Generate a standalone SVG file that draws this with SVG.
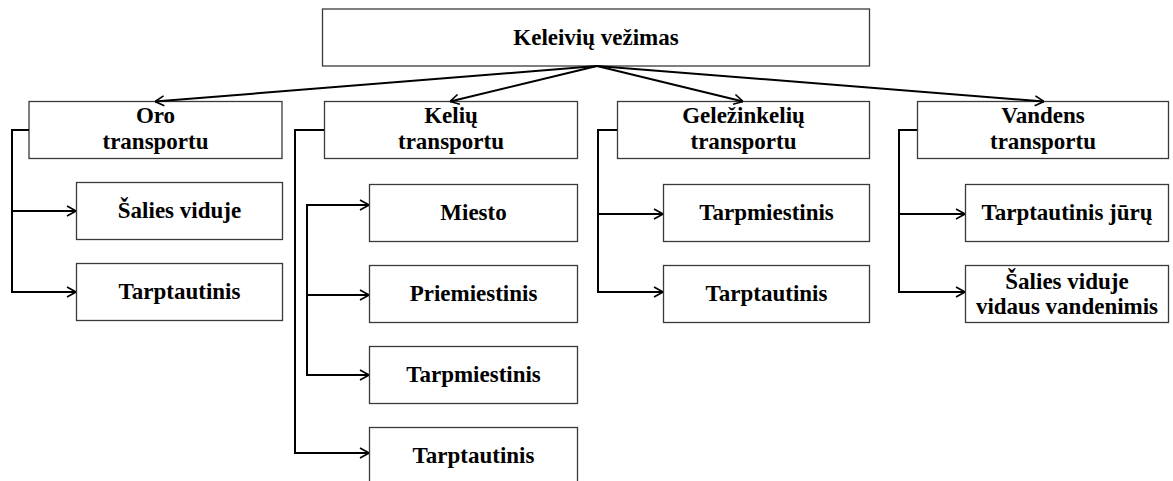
<svg xmlns="http://www.w3.org/2000/svg" width="1173" height="481" viewBox="0 0 1173 481">
  <style>
    .box { fill: #ffffff; stroke: #3a3a3a; stroke-width: 1.3; }
    .lbl { font-family: "Liberation Serif", "Times New Roman", serif; font-weight: bold; font-size: 23px; fill: #000; text-anchor: middle; }
    .wire { fill: none; stroke: #000; stroke-width: 2; }
  </style>
  <defs>
    <marker id="arr" viewBox="0 0 10 12" refX="10" refY="6" markerWidth="10" markerHeight="12" markerUnits="userSpaceOnUse" orient="auto">
      <path d="M1,1 L10,6 L1,11" fill="none" stroke="#000" stroke-width="1.6"/>
    </marker>
  </defs>
  <rect width="1173" height="481" fill="#ffffff"/>

  <!-- root -->
  <g id="root">
    <rect class="box" x="322.5" y="9" width="547" height="57"/>
    <text class="lbl" x="596" y="45">Keleivių vežimas</text>
  </g>

  <!-- first level -->
  <g id="oro">
    <rect class="box" x="29" y="101.5" width="253" height="57"/>
    <text class="lbl" x="155.5" y="123">Oro</text>
    <text class="lbl" x="155.5" y="149">transportu</text>
  </g>
  <g id="keliu">
    <rect class="box" x="324.5" y="101.5" width="253" height="57"/>
    <text class="lbl" x="451" y="123">Kelių</text>
    <text class="lbl" x="451" y="149">transportu</text>
  </g>
  <g id="gelezinkeliu">
    <rect class="box" x="617.5" y="101.5" width="252" height="57"/>
    <text class="lbl" x="743.5" y="123">Geležinkelių</text>
    <text class="lbl" x="743.5" y="149">transportu</text>
  </g>
  <g id="vandens">
    <rect class="box" x="917.5" y="101.5" width="251" height="57"/>
    <text class="lbl" x="1043" y="123">Vandens</text>
    <text class="lbl" x="1043" y="149">transportu</text>
  </g>

  <!-- air -->
  <g id="oro-salies">
    <rect class="box" x="76.5" y="182.5" width="206" height="57"/>
    <text class="lbl" x="179.5" y="218">Šalies viduje</text>
  </g>
  <g id="oro-tarptautinis">
    <rect class="box" x="76.5" y="263.5" width="206" height="57"/>
    <text class="lbl" x="179.5" y="299">Tarptautinis</text>
  </g>

  <!-- road -->
  <g id="keliu-miesto">
    <rect class="box" x="369.5" y="184.5" width="208" height="57"/>
    <text class="lbl" x="473.5" y="220">Miesto</text>
  </g>
  <g id="keliu-priemiestinis">
    <rect class="box" x="369.5" y="265.5" width="208" height="57"/>
    <text class="lbl" x="473.5" y="301">Priemiestinis</text>
  </g>
  <g id="keliu-tarpmiestinis">
    <rect class="box" x="369.5" y="346.5" width="208" height="57"/>
    <text class="lbl" x="473.5" y="382">Tarpmiestinis</text>
  </g>
  <g id="keliu-tarptautinis">
    <rect class="box" x="369.5" y="427.5" width="208" height="60"/>
    <text class="lbl" x="473.5" y="463">Tarptautinis</text>
  </g>

  <!-- rail -->
  <g id="gelezinkeliu-tarpmiestinis">
    <rect class="box" x="663.5" y="184.5" width="206" height="57"/>
    <text class="lbl" x="766.5" y="220">Tarpmiestinis</text>
  </g>
  <g id="gelezinkeliu-tarptautinis">
    <rect class="box" x="663.5" y="265.5" width="206" height="57"/>
    <text class="lbl" x="766.5" y="301">Tarptautinis</text>
  </g>

  <!-- water -->
  <g id="vandens-juru">
    <rect class="box" x="965.5" y="184.5" width="203" height="57"/>
    <text class="lbl" x="1067" y="220">Tarptautinis jūrų</text>
  </g>
  <g id="vandens-vidaus">
    <rect class="box" x="965.5" y="265.5" width="203" height="57"/>
    <text class="lbl" x="1067" y="289">Šalies viduje</text>
    <text class="lbl" x="1067" y="314">vidaus vandenimis</text>
  </g>

  <!-- connectors -->
  <g id="connectors" class="wire">
    <path class="wire" d="M597,66 L155,101.5" marker-end="url(#arr)"/>
    <path class="wire" d="M597,66 L450,101.5" marker-end="url(#arr)"/>
    <path class="wire" d="M597,66 L743,101.5" marker-end="url(#arr)"/>
    <path class="wire" d="M597,66 L1044,101.5" marker-end="url(#arr)"/>

    <path class="wire" d="M29,130 H12 V292 H76" marker-end="url(#arr)"/>
    <path class="wire" d="M12,211 H76" marker-end="url(#arr)"/>

    <path class="wire" d="M324,130 H295 V453 H369" marker-end="url(#arr)"/>
    <path class="wire" d="M307,205 V375 H369" marker-end="url(#arr)"/>
    <path class="wire" d="M306,205 H369" marker-end="url(#arr)"/>
    <path class="wire" d="M307,295 H369" marker-end="url(#arr)"/>

    <path class="wire" d="M617,130 H598 V292 H663" marker-end="url(#arr)"/>
    <path class="wire" d="M598,214 H663" marker-end="url(#arr)"/>

    <path class="wire" d="M917,130 H899 V292 H965" marker-end="url(#arr)"/>
    <path class="wire" d="M899,214 H965" marker-end="url(#arr)"/>
  </g>
</svg>
